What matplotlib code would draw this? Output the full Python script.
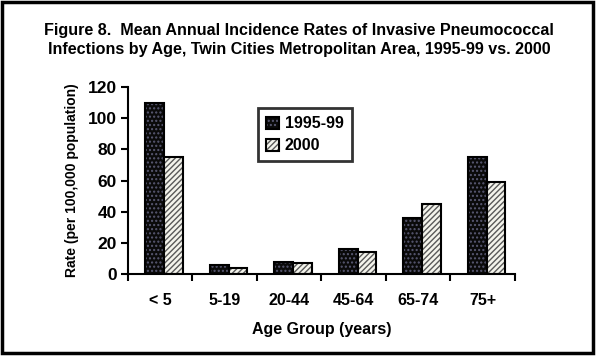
import matplotlib
matplotlib.use("Agg")
import matplotlib.pyplot as plt
from matplotlib.patches import Rectangle
import numpy as np

plt.rcParams['font.family'] = ['Liberation Sans', 'DejaVu Sans']
plt.rcParams['hatch.linewidth'] = 1.0

categories = ["< 5", "5-19", "20-44", "45-64", "65-74", "75+"]
series_names = ["1995-99", "2000"]
rates_1995_99 = [110, 6, 8, 16, 36, 75]
rates_2000 = [75, 4, 7, 14, 45, 59]
yticks = [0, 20, 40, 60, 80, 100, 120]

fig = plt.figure(figsize=(5.98, 3.57), dpi=100)
ax = fig.add_axes([0.214, 0.2325, 0.647, 0.5235])

x = np.arange(len(categories))
w = 0.29
off = 0.06
b1 = ax.bar(x + off - w / 2, rates_1995_99, w, facecolor='#0a0a0a', edgecolor='black',
            linewidth=1.5, hatch='....', label=series_names[0])
b2 = ax.bar(x + off + w / 2, rates_2000, w, facecolor='#f4f4ec', edgecolor='black',
            linewidth=1.5, hatch='//////', label=series_names[1])
for p in b1:
    p._hatch_color = (0.35, 0.35, 0.45, 1.0)
for p in b2:
    p._hatch_color = (0.35, 0.35, 0.35, 1.0)

ax.set_xlim(-0.5, len(categories) - 0.5)
ax.set_ylim(0, 120)
ax.set_yticks(yticks)
ax.set_yticklabels([str(t) for t in yticks], fontsize=12.5, fontweight='bold')
ax.set_xticks(np.arange(len(categories) + 1) - 0.5)
ax.set_xticklabels([])
ax.set_xticks(x, minor=True)
ax.set_xticklabels(categories, minor=True, fontsize=11.5, fontweight='bold')
ax.tick_params(axis='x', which='minor', length=0, pad=14)
ax.tick_params(axis='x', which='major', direction='out', length=5, width=1.5)
ax.tick_params(axis='y', direction='out', length=5, width=1.5, pad=3)
for s in ['top', 'right']:
    ax.spines[s].set_visible(False)
for s in ['left', 'bottom']:
    ax.spines[s].set_linewidth(1.5)

ax.set_xlabel("Age Group (years)", fontsize=11.5, fontweight='bold', labelpad=10)
ax.set_ylabel("Rate (per 100,000 population)", fontsize=10, fontweight='bold', labelpad=6)

leg = ax.legend(loc='upper left', bbox_to_anchor=(0.315, 0.93), frameon=True, fancybox=False,
                prop={'size': 11.5, 'weight': 'bold'}, handlelength=0.8, handleheight=0.8,
                handletextpad=0.4, borderpad=0.5, labelspacing=0.45)
leg.get_frame().set_edgecolor('black')
leg.get_frame().set_linewidth(2)

fig.text(0.5, 0.935, "Figure 8.  Mean Annual Incidence Rates of Invasive Pneumococcal\n"
         "Infections by Age, Twin Cities Metropolitan Area, 1995-99 vs. 2000",
         ha='center', va='top', fontsize=11.6, fontweight='bold', linespacing=1.3)

fig.patches.append(Rectangle((0.003, 0.012), 0.988, 0.983, transform=fig.transFigure,
                             fill=False, edgecolor='black', linewidth=2.5))

fig.savefig("out.png", dpi=100)
